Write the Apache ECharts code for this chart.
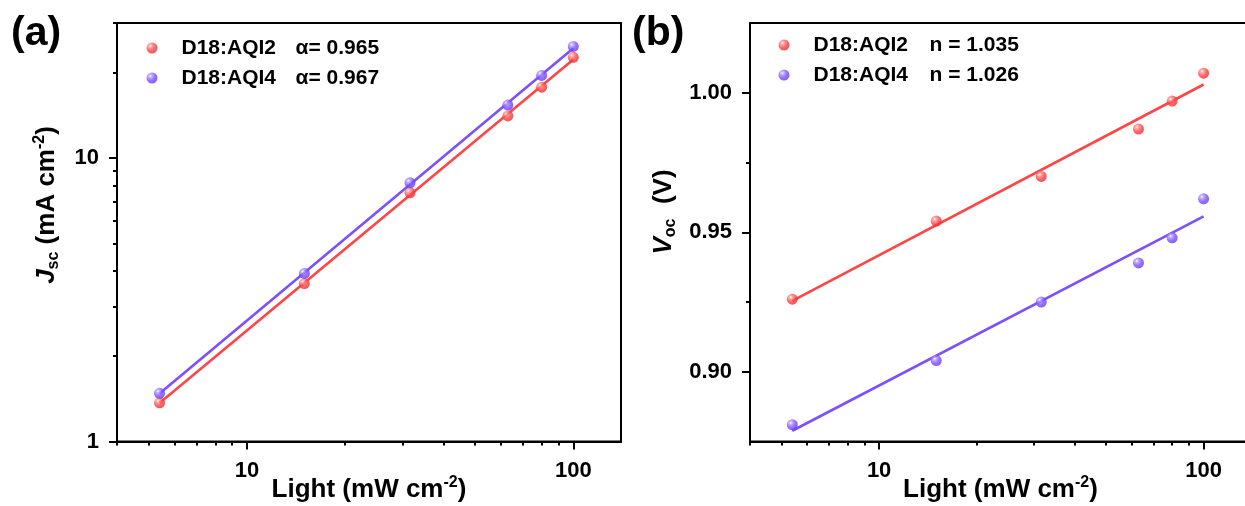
<!DOCTYPE html>
<html>
<head>
<meta charset="utf-8">
<script src="https://cdn.jsdelivr.net/npm/echarts@6/dist/echarts.min.js"></script>
<style>
  html, body { margin: 0; padding: 0; background: #fff; }
  #chart { width: 1245px; height: 506px; }
</style>
</head>
<body>
<div id="chart"></div>
<script>
// light intensity (mW cm-2)
const lightX = [5.4, 15, 31.6, 63, 80, 100]

// panel (a): Jsc (mA cm-2)
const jscAQI2 = [1.37, 3.61, 7.55, 14.1, 17.8, 22.7]
const jscAQI4 = [1.48, 3.92, 8.19, 15.4, 19.6, 24.8]

// panel (b): Voc (V)
const vocAQI2 = [0.926, 0.954, 0.970, 0.987, 0.997, 1.007]
const vocAQI4 = [0.881, 0.904, 0.925, 0.939, 0.948, 0.962]

const legendA = { 'D18:AQI2': 'α= 0.965', 'D18:AQI4': 'α= 0.967' }
const legendB = { 'D18:AQI2': 'n = 1.035', 'D18:AQI4': 'n = 1.026' }

const xMajorTicks = [10, 100]
const xMinorTicks = [4, 5, 6, 7, 8, 9, 20, 30, 40, 50, 60, 70, 80, 90]
const jscMajorTicks = [1, 10]
const jscMinorTicks = [2, 3, 4, 5, 6, 7, 8, 9, 20, 30]
const vocMajorTicks = [0.9, 0.95, 1.0]
const vocMinorTicks = [0.925, 0.975]

const FONT = 'Liberation Sans'
const RED = '#ff4545'
const PURPLE = '#7d50ff'

function sphere(base, light, dark) {
  return {
    type: 'radial', x: 0.35, y: 0.32, r: 0.75,
    colorStops: [
      { offset: 0, color: '#ffffff' },
      { offset: 0.18, color: light },
      { offset: 0.55, color: base },
      { offset: 1, color: dark },
    ],
  }
}

function linearFit(xs, ys) {
  const n = xs.length
  const mx = xs.reduce((s, v) => s + v, 0) / n
  const my = ys.reduce((s, v) => s + v, 0) / n
  let sxy = 0
  let sxx = 0
  xs.forEach((x, i) => {
    sxy += (x - mx) * (ys[i] - my)
    sxx += (x - mx) * (x - mx)
  })
  const b = sxy / sxx
  return { a: my - b * mx, b }
}

// power law fit in log-log space, drawn between first and last x
function fitLogLog(xs, ys) {
  const f = linearFit(xs.map(Math.log10), ys.map(Math.log10))
  return [xs[0], xs[xs.length - 1]].map((x) => [x, Math.pow(10, f.a + f.b * Math.log10(x))])
}

// semilog fit: Voc against log10(light)
function fitSemiLog(xs, ys) {
  const f = linearFit(xs.map(Math.log10), ys)
  return [xs[0], xs[xs.length - 1]].map((x) => [x, f.a + f.b * Math.log10(x)])
}

const pairs = (ys) => lightX.map((x, i) => [x, ys[i]])

const labelStyle = { fontFamily: FONT, fontWeight: 'bold', fontSize: 22, color: '#000' }
const lineStyle = { color: '#000', width: 2 }

const richTitle = {
  b: { fontFamily: FONT, fontWeight: 'bold', fontSize: 26, color: '#000', lineHeight: 30 },
  i: { fontFamily: FONT, fontWeight: 'bold', fontStyle: 'italic', fontSize: 26, color: '#000', lineHeight: 30 },
  sub: { fontFamily: FONT, fontWeight: 'bold', fontSize: 16, color: '#000', lineHeight: 16, verticalAlign: 'bottom' },
  sup: { fontFamily: FONT, fontWeight: 'bold', fontSize: 16, color: '#000', lineHeight: 16, verticalAlign: 'top' },
}

function mainAxis(gridIndex, type, min, max, ticks, extra) {
  return Object.assign({
    gridIndex,
    type,
    min,
    max,
    axisLine: { show: true, onZero: false, lineStyle },
    axisTick: { show: true, inside: false, length: 8, lineStyle, customValues: ticks },
    axisLabel: Object.assign({ margin: 18, customValues: ticks }, labelStyle),
    splitLine: { show: false },
  }, extra)
}

function minorAxis(gridIndex, type, min, max, ticks, position) {
  return {
    gridIndex,
    type,
    min,
    max,
    position,
    axisLine: { show: false },
    axisTick: { show: true, inside: false, length: 4, lineStyle, customValues: ticks },
    axisLabel: { show: false },
    splitLine: { show: false },
  }
}

const xName = '{b|Light (mW cm}{sup|-2}{b|)}'

const xNameOpts = {
  position: 'bottom',
  name: xName,
  nameLocation: 'middle',
  nameGap: 33,
  nameMoveOverlap: false,
  nameTextStyle: { rich: richTitle },
}

function legendFor(left, top, extra, colWidth) {
  return {
    orient: 'vertical',
    left,
    top,
    padding: 0,
    icon: 'circle',
    itemWidth: 11,
    itemHeight: 11,
    itemGap: 9,
    data: ['D18:AQI2', 'D18:AQI4'],
    formatter: (name) => '{a|' + name + '}{b|' + extra[name] + '}',
    textStyle: {
      rich: {
        a: { fontFamily: FONT, fontWeight: 'bold', fontSize: 21, color: '#000', width: colWidth, padding: [0, 0, 0, 19] },
        b: { fontFamily: FONT, fontWeight: 'bold', fontSize: 21, color: '#000' },
      },
    },
  }
}

function scatter(name, x, y, data, color) {
  return {
    name, type: 'scatter', xAxisIndex: x, yAxisIndex: y, data,
    symbol: 'circle', symbolSize: 11, z: 5,
    itemStyle: { color },
  }
}

function fitLine(name, x, y, data, color) {
  return {
    name, type: 'line', xAxisIndex: x, yAxisIndex: y, data,
    showSymbol: false, symbol: 'none', z: 3, silent: true,
    lineStyle: { color, width: 2.6 },
  }
}

const redSphere = sphere(RED, '#ff9a9a', '#e02a2a')
const purpleSphere = sphere(PURPLE, '#b9a2ff', '#6436e6')

const gridBase = { top: 23, height: 418.5, show: true, borderColor: '#000', borderWidth: 2, backgroundColor: 'transparent', outerBoundsMode: 'none', containLabel: false }

const chart = echarts.init(document.getElementById('chart'))

chart.setOption({
  animation: false,
  backgroundColor: '#fff',
  grid: [
    Object.assign({ left: 117, width: 504 }, gridBase),
    Object.assign({ left: 750, width: 501 }, gridBase),
  ],
  xAxis: [
    mainAxis(0, 'log', 4, 140, xMajorTicks, xNameOpts),
    minorAxis(0, 'log', 4, 140, xMinorTicks, 'bottom'),
    mainAxis(1, 'log', 4, 140, xMajorTicks, xNameOpts),
    minorAxis(1, 'log', 4, 140, xMinorTicks, 'bottom'),
  ],
  yAxis: [
    mainAxis(0, 'log', 1, 30, jscMajorTicks, { position: 'left' }),
    minorAxis(0, 'log', 1, 30, jscMinorTicks, 'left'),
    mainAxis(1, 'value', 0.875, 1.025, vocMajorTicks, {
      position: 'left',
      axisLabel: Object.assign({ margin: 18, customValues: vocMajorTicks, formatter: (v) => v.toFixed(2) }, labelStyle),
    }),
    minorAxis(1, 'value', 0.875, 1.025, vocMinorTicks, 'left'),
  ],
  legend: [legendFor(146.5, 37.5, legendA, 114), legendFor(778.5, 34.5, legendB, 116)],
  graphic: [
    { type: 'text', left: 11, top: 13, style: { text: '(a)', fontFamily: FONT, fontWeight: 'bold', fontSize: 41, fill: '#000' } },
    { type: 'text', left: 632, top: 13, style: { text: '(b)', fontFamily: FONT, fontWeight: 'bold', fontSize: 41, fill: '#000' } },
    {
      type: 'text', x: 47, y: 205, rotation: Math.PI / 2,
      style: { text: '{i|J}{sub|sc}{b| (mA cm}{sup|-2}{b|)}', rich: richTitle, align: 'center', verticalAlign: 'middle' },
    },
    {
      type: 'text', x: 664, y: 212, rotation: Math.PI / 2,
      style: { text: '{i|V}{sub|oc}{b|  (V)}', rich: richTitle, align: 'center', verticalAlign: 'middle' },
    },
  ],
  series: [
    fitLine('fit a AQI2', 0, 0, fitLogLog(lightX, jscAQI2), RED),
    fitLine('fit a AQI4', 0, 0, fitLogLog(lightX, jscAQI4), PURPLE),
    scatter('D18:AQI2', 0, 0, pairs(jscAQI2), redSphere),
    scatter('D18:AQI4', 0, 0, pairs(jscAQI4), purpleSphere),
    fitLine('fit b AQI2', 2, 2, fitSemiLog(lightX, vocAQI2), RED),
    fitLine('fit b AQI4', 2, 2, fitSemiLog(lightX, vocAQI4), PURPLE),
    scatter('D18:AQI2', 2, 2, pairs(vocAQI2), redSphere),
    scatter('D18:AQI4', 2, 2, pairs(vocAQI4), purpleSphere),
  ],
})
</script>
</body>
</html>
